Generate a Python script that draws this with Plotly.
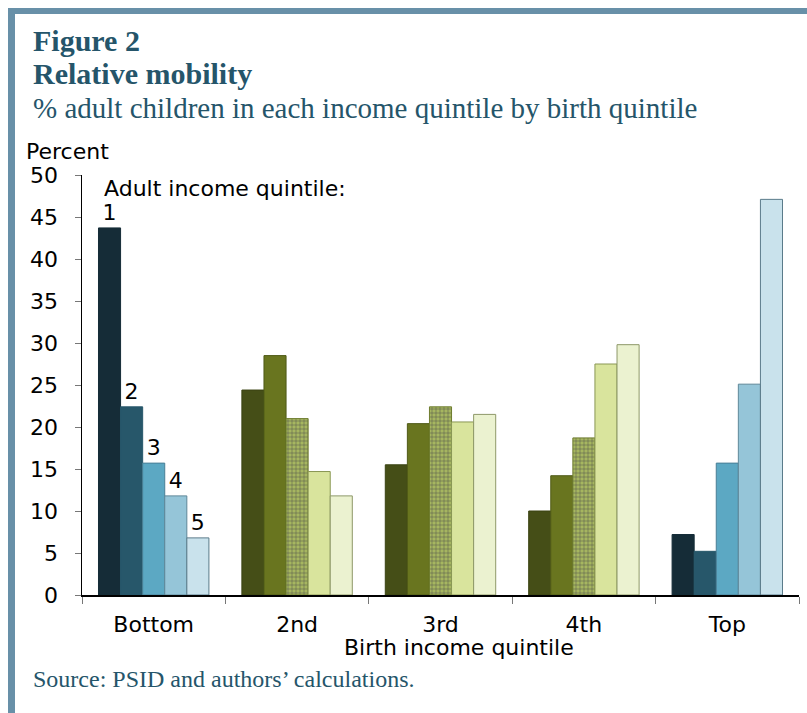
import plotly.graph_objects as go

birth_quintiles = ["Bottom", "2nd", "3rd", "4th", "Top"]
adult_quintiles = ["1", "2", "3", "4", "5"]

# percent of adult children in each adult income quintile (rows) by birth quintile (columns)
adult_q1 = [43.7, 24.4, 15.5, 10.0, 7.2]
adult_q2 = [22.4, 28.5, 20.4, 14.2, 5.2]
adult_q3 = [15.7, 21.0, 22.4, 18.7, 15.7]
adult_q4 = [11.8, 14.7, 20.6, 27.5, 25.1]
adult_q5 = [6.8, 11.8, 21.5, 29.8, 47.1]
series = [adult_q1, adult_q2, adult_q3, adult_q4, adult_q5]

blue = ["#152C37", "#27576A", "#5CA8C3", "#95C5D8", "#C9E2EC"]
blue_line = ["#152C37", "#27576A", "#4A7F95", "#5E8798", "#5A7B8A"]
green = ["#454E17", "#69751F", "#A6B660", "#D9E49D", "#EBF2D0"]
green_line = ["#3A4313", "#4F5A17", "#6E7C2E", "#8A9754", "#8E9868"]
hatch_color = "#C8D29A"

fig = go.Figure()
for i, (name, vals) in enumerate(zip(adult_quintiles, series)):
    is_blue = [g in ("Bottom", "Top") for g in birth_quintiles]
    colors = [blue[i] if b else green[i] for b in is_blue]
    lcolors = [blue_line[i] if b else green_line[i] for b in is_blue]
    pattern = None
    if i == 2:
        pattern = dict(shape=["" if b else "+" for b in is_blue], fillmode="overlay",
                       fgcolor=[hatch_color] * 5, bgcolor=colors,
                       fgopacity=1, size=[4] * 5, solidity=[0.2] * 5)
    marker = dict(color=colors, line=dict(color=lcolors, width=1))
    if pattern:
        marker["pattern"] = pattern
    fig.add_trace(go.Bar(
        x=birth_quintiles, y=vals, name=name,
        text=[name if g == "Bottom" else "" for g in birth_quintiles],
        textposition="outside",
        textfont=dict(family="DejaVu Sans", size=22, color="#000000"),
        cliponaxis=False,
        marker=marker,
        hoverinfo="skip",
    ))

W, H = 807, 713
L, R, T, B = 82, 8, 175, 118
pw, ph = W - L - R, H - T - B

def px(x):
    return (x - L) / pw

def py(y):
    return (H - B - y) / ph

title_color = "#25556A"
serif = "Liberation Serif"
sans = "DejaVu Sans"
anns = [
    dict(text="<b>Figure 2</b>", x=px(31), y=py(40), font=dict(family=serif, size=30, color=title_color)),
    dict(text="<b>Relative mobility</b>", x=px(31), y=py(74), font=dict(family=serif, size=30, color=title_color)),
    dict(text="% adult children in each income quintile by birth quintile", x=px(31), y=py(108),
         font=dict(family=serif, size=29, color=title_color)),
    dict(text="Source: PSID and authors\u2019 calculations.", x=px(31), y=py(679),
         font=dict(family=serif, size=24, color=title_color)),
    dict(text="Percent", x=px(24), y=py(151), font=dict(family=sans, size=22, color="#000000")),
    dict(text="Adult income quintile:", x=px(102), y=py(188), font=dict(family=sans, size=22, color="#000000")),
]
annotations = []
for a in anns:
    a.update(xref="paper", yref="paper", xanchor="left", yanchor="middle", showarrow=False)
    annotations.append(a)
annotations.append(dict(text="Birth income quintile", xref="paper", yref="paper", x=px(459), y=py(647),
                        xanchor="center", yanchor="middle", showarrow=False,
                        font=dict(family=sans, size=22, color="#000000")))

shapes = [
    dict(type="rect", xref="paper", yref="paper", x0=px(8), x1=px(15), y0=py(713), y1=py(8),
         fillcolor="#6890A8", line=dict(width=0), layer="above"),
    dict(type="rect", xref="paper", yref="paper", x0=px(8), x1=px(807), y0=py(14), y1=py(8),
         fillcolor="#6890A8", line=dict(width=0), layer="above"),
]

fig.update_layout(
    width=W, height=H,
    margin=dict(l=L, r=R, t=T, b=B, pad=0),
    paper_bgcolor="#FFFFFF", plot_bgcolor="#FFFFFF",
    barmode="group", bargap=0.23, bargroupgap=0,
    showlegend=False,
    annotations=annotations,
    shapes=shapes,
    xaxis=dict(type="category", showline=True, linecolor="#000000", linewidth=1.5,
               ticks="outside", tickson="boundaries", ticklen=7, tickcolor="#777777", tickwidth=1,
               tickfont=dict(family=sans, size=22, color="#000000"),
               ticklabelstandoff=9, showgrid=False, zeroline=False),
    yaxis=dict(range=[0, 50], dtick=5, showline=True, linecolor="#000000", linewidth=1.5,
               ticks="outside", ticklen=6, tickcolor="#777777", tickwidth=1,
               tickfont=dict(family=sans, size=22, color="#000000"),
               ticklabelstandoff=12, showgrid=False, zeroline=False),
)

fig.write_html("out.html", config={"displayModeBar": False, "staticPlot": True},
               post_script="document.body.style.margin='0';document.body.style.overflow='hidden';")
